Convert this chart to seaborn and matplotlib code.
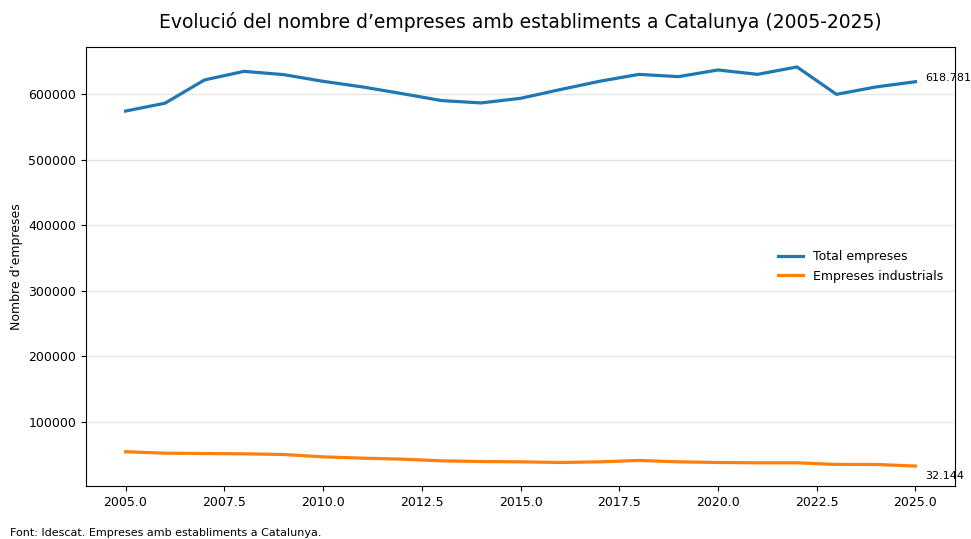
import numpy as np
import pandas as pd
import seaborn as sns
import matplotlib.pyplot as plt

years      = np.arange(2005, 2026)
total      = [574000, 586000, 621500, 634600, 629600, 619400, 610800, 600600, 590000, 586400, 593400,
              606700, 619400, 630000, 626500, 636700, 630000, 641300, 599500, 610800, 618781]
industrial = [54000, 51800, 51300, 50800, 49800, 46200, 44200, 42700, 40100, 39100, 38600,
              37600, 38600, 40700, 38600, 37600, 37100, 37100, 34600, 34600, 32144]

df = pd.DataFrame({'any': years, 'Total empreses': total, 'Empreses industrials': industrial})

fig = plt.figure(figsize=(9.71, 5.39), dpi=100)
ax = fig.add_axes([0.0886, 0.0983, 0.8949, 0.8145])

sns.lineplot(data=df, x='any', y='Total empreses', ax=ax, color='#1f77b4', linewidth=2.3, label='Total empreses')
sns.lineplot(data=df, x='any', y='Empreses industrials', ax=ax, color='#ff7f0e', linewidth=2.3, label='Empreses industrials')

ax.grid(axis='y', color='#e6e6e6', linewidth=1)
ax.set_axisbelow(True)
ax.set_xlabel('')
ax.set_ylabel("Nombre d’empreses", fontsize=9)
ax.tick_params(labelsize=9)
ax.set_title("Evolució del nombre d’empreses amb establiments a Catalunya (2005-2025)", fontsize=13.5, pad=14)
ax.legend(loc='center right', frameon=False, fontsize=9)

ax.annotate(f"{total[-1]:,}".replace(',', '.'), (years[-1], total[-1]), xytext=(7, 3),
            textcoords='offset points', fontsize=8, va='center')
ax.annotate(f"{industrial[-1]:,}".replace(',', '.'), (years[-1], industrial[-1]), xytext=(7, -7),
            textcoords='offset points', fontsize=8, va='center')

fig.text(0.01, 0.005, 'Font: Idescat. Empreses amb establiments a Catalunya.', fontsize=8)

plt.savefig('out.png', dpi=100)
